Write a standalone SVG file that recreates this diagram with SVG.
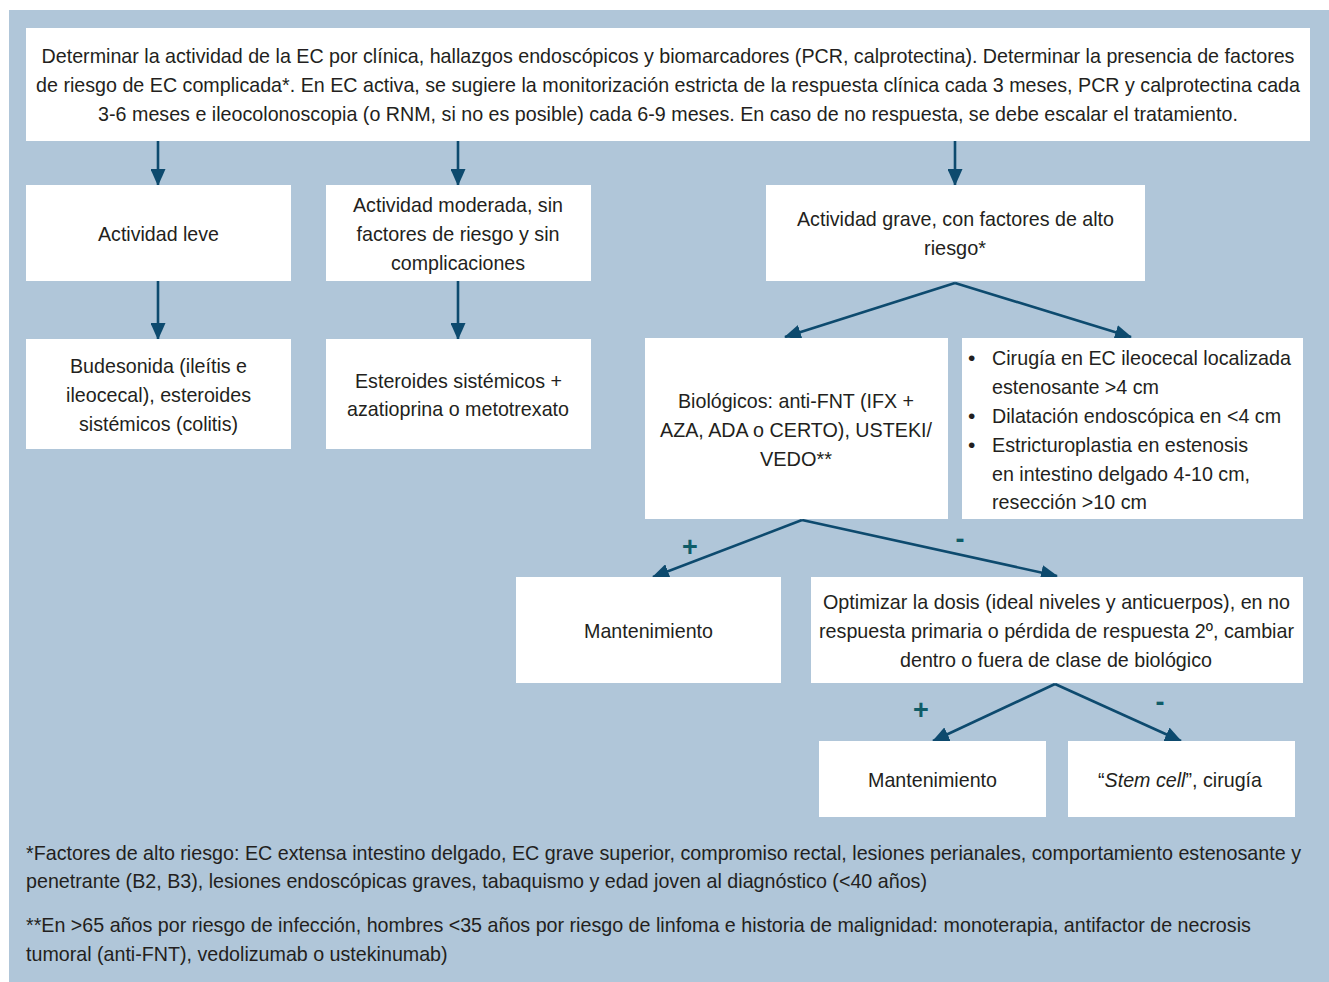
<svg xmlns="http://www.w3.org/2000/svg" width="1329" height="982" viewBox="0 0 1329 982">
<style>
.bg{fill:#b0c6d9}
.box{fill:#ffffff}
text{font-family:"Liberation Sans Narrow","Liberation Sans",Arial,sans-serif;font-size:21px;fill:#231f20}
.c{text-anchor:middle}
.sign{font-family:"Liberation Sans",Arial,sans-serif;font-weight:bold;font-size:27px;fill:#0f5c68;text-anchor:middle}
.arr{stroke:#0d4a6e;stroke-width:2.6;fill:none;marker-end:url(#ah)}
</style>
<defs>
<marker id="ah" markerUnits="userSpaceOnUse" markerWidth="17" markerHeight="15" refX="16" refY="7.5" orient="auto" viewBox="0 0 17 15">
<path d="M0,0 L17,7.5 L0,15 Z" fill="#0d4a6e"/>
</marker>
</defs>
<rect x="0" y="0" width="1329" height="982" fill="#ffffff"/>
<rect class="bg" x="9" y="10" width="1320" height="972"/>

<g id="connectors">
<line class="arr" x1="158" y1="141" x2="158" y2="185"/>
<line class="arr" x1="458" y1="141" x2="458" y2="185"/>
<line class="arr" x1="955" y1="141" x2="955" y2="185"/>
<line class="arr" x1="158" y1="281" x2="158" y2="339"/>
<line class="arr" x1="458" y1="281" x2="458" y2="339"/>
<line class="arr" x1="955" y1="283" x2="785" y2="337"/>
<line class="arr" x1="955" y1="283" x2="1131" y2="337"/>
<line class="arr" x1="802" y1="520" x2="653" y2="577"/>
<line class="arr" x1="802" y1="520" x2="1057" y2="576"/>
<line class="arr" x1="1055" y1="684" x2="933" y2="741"/>
<line class="arr" x1="1055" y1="684" x2="1181" y2="741"/>
<text class="sign" x="690" y="556">+</text>
<text class="sign" x="960" y="548">-</text>
<text class="sign" x="921" y="719">+</text>
<text class="sign" x="1160" y="711">-</text>
</g>

<g id="n-top">
<rect class="box" x="26" y="28" width="1284" height="113"/>
<text class="c" transform="translate(668,63) scale(0.85,1)" x="0" y="0" textLength="1474" lengthAdjust="spacingAndGlyphs">Determinar la actividad de la EC por clínica, hallazgos endoscópicos y biomarcadores (PCR, calprotectina). Determinar la presencia de factores</text>
<text class="c" transform="translate(668,92) scale(0.85,1)" x="0" y="0" textLength="1487" lengthAdjust="spacingAndGlyphs">de riesgo de EC complicada*. En EC activa, se sugiere la monitorización estricta de la respuesta clínica cada 3 meses, PCR y calprotectina cada</text>
<text class="c" transform="translate(668,121) scale(0.85,1)" x="0" y="0" textLength="1341" lengthAdjust="spacingAndGlyphs">3-6 meses e ileocolonoscopia (o RNM, si no es posible) cada 6-9 meses. En caso de no respuesta, se debe escalar el tratamiento.</text>
</g>

<g id="n-leve">
<rect class="box" x="26" y="185" width="265" height="96"/>
<text class="c" x="158.5" y="241" textLength="121" lengthAdjust="spacingAndGlyphs">Actividad leve</text>
</g>

<g id="n-moderada">
<rect class="box" x="326" y="185" width="265" height="96"/>
<text class="c" x="458" y="212" textLength="210" lengthAdjust="spacingAndGlyphs">Actividad moderada, sin</text>
<text class="c" x="458" y="241" textLength="203" lengthAdjust="spacingAndGlyphs">factores de riesgo y sin</text>
<text class="c" x="458" y="270" textLength="134" lengthAdjust="spacingAndGlyphs">complicaciones</text>
</g>

<g id="n-grave">
<rect class="box" x="766" y="185" width="379" height="96"/>
<text class="c" x="955.5" y="226" textLength="317" lengthAdjust="spacingAndGlyphs">Actividad grave, con factores de alto</text>
<text class="c" x="955" y="255" textLength="62" lengthAdjust="spacingAndGlyphs">riesgo*</text>
</g>

<g id="n-budesonida">
<rect class="box" x="26" y="339" width="265" height="110"/>
<text class="c" x="158.5" y="373" textLength="177" lengthAdjust="spacingAndGlyphs">Budesonida (ileítis e</text>
<text class="c" x="158.5" y="402" textLength="185" lengthAdjust="spacingAndGlyphs">ileocecal), esteroides</text>
<text class="c" x="158.5" y="431" textLength="159" lengthAdjust="spacingAndGlyphs">sistémicos (colitis)</text>
</g>

<g id="n-esteroides">
<rect class="box" x="326" y="339" width="265" height="110"/>
<text class="c" x="458.5" y="388" textLength="207" lengthAdjust="spacingAndGlyphs">Esteroides sistémicos +</text>
<text class="c" x="458" y="416" textLength="222" lengthAdjust="spacingAndGlyphs">azatioprina o metotrexato</text>
</g>

<g id="n-biologicos">
<rect class="box" x="645" y="338" width="303" height="181"/>
<text class="c" x="796" y="408" textLength="236" lengthAdjust="spacingAndGlyphs">Biológicos: anti-FNT (IFX +</text>
<text class="c" x="796" y="437" textLength="272" lengthAdjust="spacingAndGlyphs">AZA, ADA o CERTO), USTEKI/</text>
<text class="c" x="796" y="466" textLength="72" lengthAdjust="spacingAndGlyphs">VEDO**</text>
</g>

<g id="n-cirugia">
<rect class="box" x="962" y="338" width="341" height="181"/>
<text x="968" y="365">•</text>
<text x="992" y="365" textLength="299" lengthAdjust="spacingAndGlyphs">Cirugía en EC ileocecal localizada</text>
<text x="992" y="394" textLength="167" lengthAdjust="spacingAndGlyphs">estenosante &gt;4 cm</text>
<text x="968" y="423">•</text>
<text x="992" y="423" textLength="289" lengthAdjust="spacingAndGlyphs">Dilatación endoscópica en &lt;4 cm</text>
<text x="968" y="452">•</text>
<text x="992" y="452" textLength="256" lengthAdjust="spacingAndGlyphs">Estricturoplastia en estenosis</text>
<text x="992" y="481" textLength="258" lengthAdjust="spacingAndGlyphs">en intestino delgado 4-10 cm,</text>
<text x="992" y="509" textLength="155" lengthAdjust="spacingAndGlyphs">resección &gt;10 cm</text>
</g>

<g id="n-mant1">
<rect class="box" x="516" y="577" width="265" height="106"/>
<text class="c" x="648.5" y="638" textLength="129" lengthAdjust="spacingAndGlyphs">Mantenimiento</text>
</g>

<g id="n-optimizar">
<rect class="box" x="811" y="577" width="492" height="106"/>
<text class="c" x="1056.5" y="609" textLength="467" lengthAdjust="spacingAndGlyphs">Optimizar la dosis (ideal niveles y anticuerpos), en no</text>
<text class="c" x="1056.5" y="638" textLength="475" lengthAdjust="spacingAndGlyphs">respuesta primaria o pérdida de respuesta 2º, cambiar</text>
<text class="c" x="1056" y="667" textLength="312" lengthAdjust="spacingAndGlyphs">dentro o fuera de clase de biológico</text>
</g>

<g id="n-mant2">
<rect class="box" x="819" y="741" width="227" height="76"/>
<text class="c" x="932.5" y="787" textLength="129" lengthAdjust="spacingAndGlyphs">Mantenimiento</text>
</g>

<g id="n-stem">
<rect class="box" x="1068" y="741" width="227" height="76"/>
<text class="c" x="1180" y="787" textLength="164" lengthAdjust="spacingAndGlyphs">“<tspan font-style="italic">Stem cell</tspan>”, cirugía</text>
</g>

<g id="footnotes">
<text transform="translate(26,860) scale(0.85,1)" x="0" y="0" textLength="1500" lengthAdjust="spacingAndGlyphs">*Factores de alto riesgo: EC extensa intestino delgado, EC grave superior, compromiso rectal, lesiones perianales, comportamiento estenosante y</text>
<text transform="translate(26,888) scale(0.85,1)" x="0" y="0" textLength="1060" lengthAdjust="spacingAndGlyphs">penetrante (B2, B3), lesiones endoscópicas graves, tabaquismo y edad joven al diagnóstico (&lt;40 años)</text>
<text transform="translate(26,932) scale(0.85,1)" x="0" y="0" textLength="1441" lengthAdjust="spacingAndGlyphs">**En &gt;65 años por riesgo de infección, hombres &lt;35 años por riesgo de linfoma e historia de malignidad: monoterapia, antifactor de necrosis</text>
<text transform="translate(26,961) scale(0.85,1)" x="0" y="0" textLength="496" lengthAdjust="spacingAndGlyphs">tumoral (anti-FNT), vedolizumab o ustekinumab)</text>
</g>
</svg>
